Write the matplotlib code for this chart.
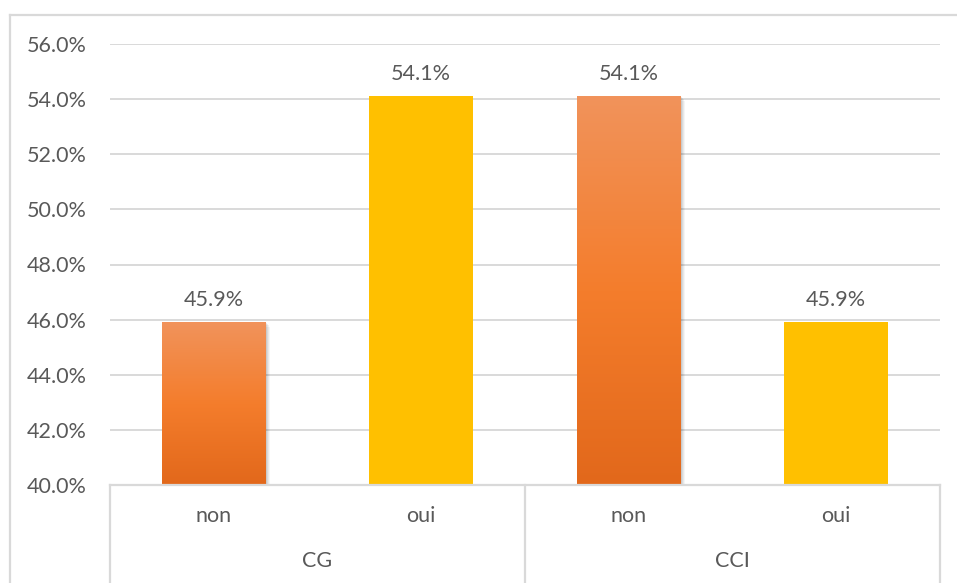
import matplotlib
matplotlib.use("Agg")
import matplotlib.pyplot as plt
import matplotlib.patheffects as pe
from matplotlib.colors import LinearSegmentedColormap
from matplotlib.lines import Line2D
import numpy as np

# Data
groups = ["CG", "CCI"]
answers = ["non", "oui", "non", "oui"]
values = [45.9, 54.1, 54.1, 45.9]
yticks = [40, 42, 44, 46, 48, 50, 52, 54, 56]

ORANGE_TOP = "#F1935B"
ORANGE_MID = "#F47D2C"
ORANGE_BOT = "#E2681B"
GOLD = "#FFC000"
TEXT = "#595959"
GRID = "#D9D9D9"

plt.rcParams["font.family"] = ["Lato", "DejaVu Sans"]

fig = plt.figure(figsize=(9.57, 5.83), dpi=100)
fig.patch.set_facecolor("white")
W, H = 957, 583
ax = fig.add_axes([110 / W, (H - 485) / H, 830 / W, 441 / H])

x = np.arange(len(values))
colors = [ORANGE_BOT, GOLD, ORANGE_BOT, GOLD]

shadow = [pe.SimplePatchShadow(offset=(d, -d), shadow_rgbFace="black", alpha=a)
          for d, a in [(3.0, 0.04), (2.2, 0.05), (1.4, 0.06), (0.7, 0.07)]]

bars = ax.bar(x, values, width=0.5, bottom=0, color=colors, zorder=3)

cmap = LinearSegmentedColormap.from_list("orange_grad", [ORANGE_BOT, ORANGE_MID, ORANGE_TOP])
grad = np.linspace(0, 1, 256).reshape(-1, 1)
for b, c in zip(bars, colors):
    if c == ORANGE_BOT:
        b.set_path_effects(shadow + [pe.Normal()])
        x0, w, h = b.get_x(), b.get_width(), b.get_height()
        im = ax.imshow(grad, extent=[x0, x0 + w, 40, h], origin="lower",
                       cmap=cmap, aspect="auto", zorder=4, interpolation="bilinear")
        im.set_clip_path(b)

ax.set_xlim(-0.5, len(values) - 0.5)
ax.set_ylim(40, 56)
ax.set_yticks(yticks)
ax.set_yticklabels([f"{t:.1f}%" for t in yticks], color=TEXT, fontsize=15.5)
ax.tick_params(axis="y", length=0, pad=17)
ax.tick_params(axis="x", length=0, labelbottom=False)
ax.yaxis.grid(True, color=GRID, linewidth=1.4, zorder=0)
ax.set_axisbelow(True)
for s in ["top", "right", "left"]:
    ax.spines[s].set_visible(False)
ax.spines["bottom"].set_color(GRID)
ax.spines["bottom"].set_linewidth(1.6)
ax.spines["bottom"].set_zorder(6)

# value labels
for xi, v in zip(x, values):
    ax.annotate(f"{v:.1f}%", (xi, v), xytext=(0, 9), textcoords="offset points",
                ha="center", va="bottom", color=TEXT, fontsize=15.5)

# two-level category axis
trans = ax.get_xaxis_transform()
low = -0.23
for xb in [-0.5, 1.5, 3.5]:
    ax.plot([xb, xb], [0, low], transform=trans, color=GRID, linewidth=1.6,
            clip_on=False, zorder=6)
for xi, lab in zip(x, answers):
    ax.text(xi, -0.07, lab, transform=trans, ha="center", va="center",
            color=TEXT, fontsize=15.5)
for gi, g in enumerate(groups):
    ax.text(2 * gi + 0.5, -0.173, g, transform=trans, ha="center", va="center",
            color=TEXT, fontsize=15.5)

# chart area border
fig.add_artist(Line2D([10 / W, 1.0], [1 - 15 / H, 1 - 15 / H], color=GRID, linewidth=1.6))
fig.add_artist(Line2D([10 / W, 10 / W], [0.0, 1 - 15 / H], color=GRID, linewidth=1.6))

fig.savefig("out.png", dpi=100, facecolor="white")
